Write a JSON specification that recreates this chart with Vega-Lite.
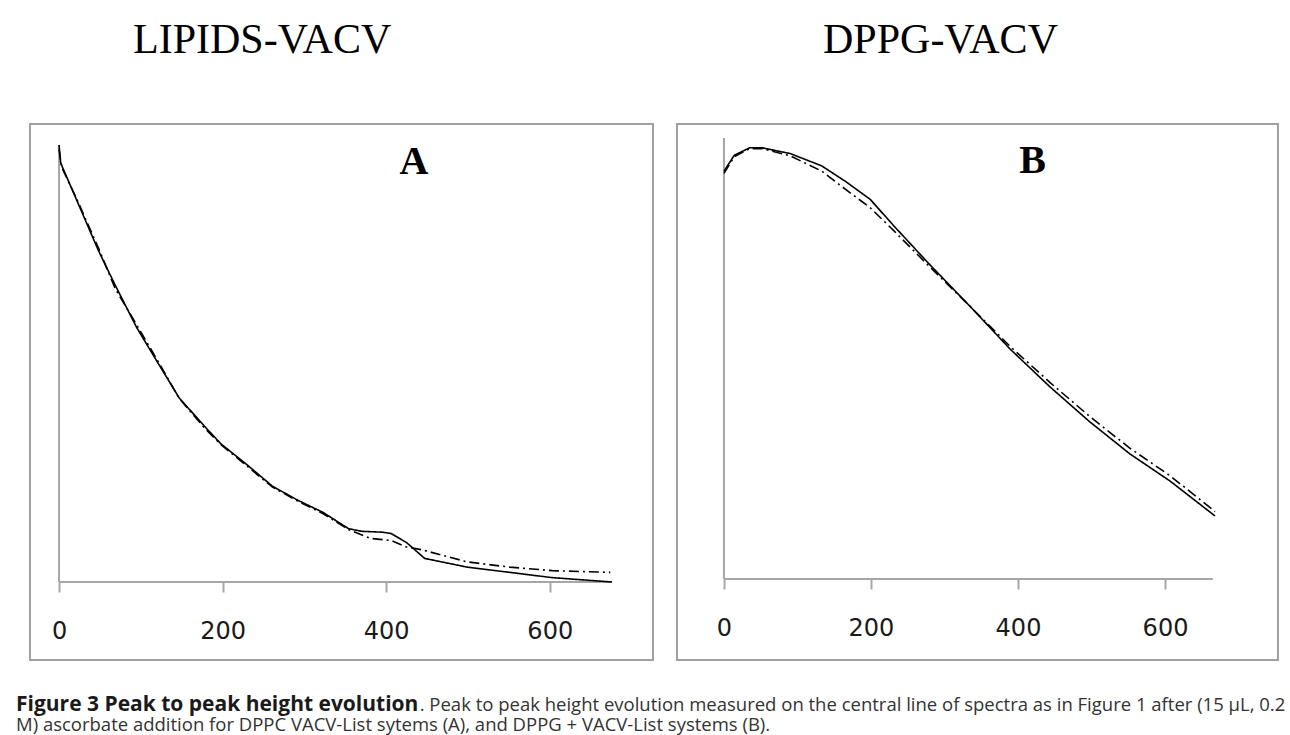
{
  "$schema": "https://vega.github.io/schema/vega-lite/v6.json",
  "background": "white",
  "padding": {"left": 16, "top": 18, "right": 10, "bottom": 3},
  "spacing": 22,
  "title": {
    "text": "Figure 3 Peak to peak height evolution",
    "subtitle": [
      "\u200b\u00a0\u00a0\u00a0\u00a0\u00a0\u00a0\u00a0\u00a0\u00a0\u00a0\u00a0\u00a0\u00a0\u00a0\u00a0\u00a0\u00a0\u00a0\u00a0\u00a0\u00a0\u00a0\u00a0\u00a0\u00a0\u00a0\u00a0\u00a0\u00a0\u00a0\u00a0\u00a0\u00a0\u00a0\u00a0\u00a0\u00a0\u00a0\u00a0\u00a0\u00a0\u00a0\u00a0\u00a0\u00a0\u00a0\u00a0\u00a0\u00a0\u00a0\u00a0\u00a0\u00a0\u00a0\u00a0\u00a0\u00a0\u00a0\u00a0\u00a0\u00a0\u00a0\u00a0\u00a0\u00a0\u00a0\u00a0\u00a0\u00a0\u00a0\u00a0\u00a0\u00a0\u00a0\u00a0\u00a0\u00a0\u00a0\u00a0\u00a0\u00a0\u00a0\u00a0\u00a0. Peak to peak height evolution measured on the central line of spectra as in Figure 1 after (15 µL, 0.2",
      "M) ascorbate addition for DPPC VACV-List sytems (A), and DPPG + VACV-List systems (B)."
    ],
    "orient": "bottom",
    "anchor": "start",
    "dx": -13,
    "offset": 33,
    "font": "Open Sans",
    "fontSize": 21,
    "fontWeight": "bold",
    "color": "#1a1a1a",
    "subtitleFont": "Open Sans",
    "subtitleFontSize": 18.5,
    "subtitleFontWeight": "normal",
    "subtitleColor": "#333333",
    "subtitlePadding": -19,
    "subtitleLineHeight": 20
  },
  "datasets": {
    "a": [
      {"x": 0, "y": 100, "s": "solid"}, {"x": 2, "y": 96, "s": "solid"}, {"x": 4, "y": 95, "s": "solid"},
      {"x": 22, "y": 87.2, "s": "solid"}, {"x": 48, "y": 75.9, "s": "solid"}, {"x": 69, "y": 67.8, "s": "solid"},
      {"x": 95, "y": 58.2, "s": "solid"}, {"x": 121, "y": 50.1, "s": "solid"}, {"x": 147, "y": 42.1, "s": "solid"},
      {"x": 178, "y": 35.6, "s": "solid"}, {"x": 198, "y": 31.6, "s": "solid"}, {"x": 230, "y": 26.8, "s": "solid"},
      {"x": 261, "y": 21.9, "s": "solid"}, {"x": 292, "y": 18.7, "s": "solid"}, {"x": 323, "y": 15.9, "s": "solid"},
      {"x": 354, "y": 12.2, "s": "solid"}, {"x": 370, "y": 11.6, "s": "solid"}, {"x": 395, "y": 11.4, "s": "solid"},
      {"x": 406, "y": 11.1, "s": "solid"}, {"x": 425, "y": 9.0, "s": "solid"}, {"x": 447, "y": 5.4, "s": "solid"},
      {"x": 499, "y": 3.4, "s": "solid"}, {"x": 551, "y": 2.2, "s": "solid"}, {"x": 603, "y": 1.0, "s": "solid"},
      {"x": 676, "y": 0, "s": "solid"},
      {"x": 0, "y": 99, "s": "dashdot"}, {"x": 3, "y": 95, "s": "dashdot"}, {"x": 22, "y": 87.5, "s": "dashdot"},
      {"x": 48, "y": 76.5, "s": "dashdot"}, {"x": 69, "y": 67, "s": "dashdot"}, {"x": 95, "y": 58.8, "s": "dashdot"},
      {"x": 121, "y": 50.5, "s": "dashdot"}, {"x": 147, "y": 42, "s": "dashdot"}, {"x": 178, "y": 35.2, "s": "dashdot"},
      {"x": 198, "y": 31.4, "s": "dashdot"}, {"x": 230, "y": 26.5, "s": "dashdot"}, {"x": 261, "y": 21.7, "s": "dashdot"},
      {"x": 292, "y": 18.5, "s": "dashdot"}, {"x": 323, "y": 15.6, "s": "dashdot"}, {"x": 354, "y": 12, "s": "dashdot"},
      {"x": 380, "y": 10, "s": "dashdot"}, {"x": 406, "y": 9.5, "s": "dashdot"}, {"x": 425, "y": 8, "s": "dashdot"},
      {"x": 443, "y": 7.4, "s": "dashdot"}, {"x": 499, "y": 4.6, "s": "dashdot"}, {"x": 551, "y": 3.4, "s": "dashdot"},
      {"x": 603, "y": 2.6, "s": "dashdot"}, {"x": 674, "y": 2.2, "s": "dashdot"}
    ],
    "b": [
      {"x": 0, "y": 92.5, "s": "solid"}, {"x": 14, "y": 96.1, "s": "solid"}, {"x": 35, "y": 97.8, "s": "solid"},
      {"x": 52, "y": 97.8, "s": "solid"}, {"x": 90, "y": 96.5, "s": "solid"}, {"x": 133, "y": 93.7, "s": "solid"},
      {"x": 166, "y": 90.1, "s": "solid"}, {"x": 199, "y": 86.1, "s": "solid"}, {"x": 231, "y": 80.1, "s": "solid"},
      {"x": 280, "y": 71.3, "s": "solid"}, {"x": 335, "y": 61.8, "s": "solid"}, {"x": 389, "y": 52.2, "s": "solid"},
      {"x": 444, "y": 43.5, "s": "solid"}, {"x": 498, "y": 35.6, "s": "solid"}, {"x": 552, "y": 28.4, "s": "solid"},
      {"x": 607, "y": 22.2, "s": "solid"}, {"x": 668, "y": 14.3, "s": "solid"},
      {"x": 0, "y": 92, "s": "dashdot"}, {"x": 14, "y": 95.8, "s": "dashdot"}, {"x": 35, "y": 97.6, "s": "dashdot"},
      {"x": 52, "y": 97.6, "s": "dashdot"}, {"x": 90, "y": 96, "s": "dashdot"}, {"x": 133, "y": 92.5, "s": "dashdot"},
      {"x": 166, "y": 88.3, "s": "dashdot"}, {"x": 199, "y": 84.2, "s": "dashdot"}, {"x": 231, "y": 79, "s": "dashdot"},
      {"x": 280, "y": 70.8, "s": "dashdot"}, {"x": 335, "y": 61.8, "s": "dashdot"}, {"x": 389, "y": 52.8, "s": "dashdot"},
      {"x": 444, "y": 44.5, "s": "dashdot"}, {"x": 498, "y": 36.8, "s": "dashdot"}, {"x": 552, "y": 29.7, "s": "dashdot"},
      {"x": 607, "y": 23.4, "s": "dashdot"}, {"x": 668, "y": 15.3, "s": "dashdot"}
    ]
  },
  "hconcat": [
    {
      "width": 623,
      "height": 536,
      "title": {"text": "LIPIDS-VACV", "anchor": "start", "dx": 103, "offset": 62, "font": "Liberation Serif", "fontSize": 42, "fontWeight": "normal", "color": "#000000"},
      "layer": [
        {
          "data": {"values": [{}]},
          "mark": {"type": "rule", "color": "#a6a6a6", "strokeWidth": 2},
          "encoding": {
            "x": {"datum": 0, "type": "quantitative", "scale": {"domain": [-35.5, 726.2], "nice": false, "zero": false}, "axis": {"values": [0, 200, 400, 600], "offset": -78, "title": null}},
            "x2": {"datum": 676},
            "y": {"datum": 0, "type": "quantitative", "scale": {"domain": [-17.85, 104.8], "nice": false, "zero": false}, "axis": null}
          }
        },
        {
          "data": {"values": [{}]},
          "mark": {"type": "rule", "color": "#a6a6a6", "strokeWidth": 2},
          "encoding": {
            "x": {"datum": 0, "type": "quantitative"},
            "y": {"datum": 0, "type": "quantitative"},
            "y2": {"datum": 100}
          }
        },
        {
          "data": {"name": "a"},
          "mark": {"type": "line", "color": "#000000", "strokeWidth": 1.6},
          "encoding": {
            "x": {"field": "x", "type": "quantitative"},
            "y": {"field": "y", "type": "quantitative"},
            "strokeDash": {"field": "s", "type": "nominal", "scale": {"domain": ["solid", "dashdot"], "range": [[1, 0], [10, 4, 2, 4]]}, "legend": null}
          }
        },
        {
          "data": {"values": [{}]},
          "mark": {"type": "text", "text": "A", "font": "Liberation Serif", "fontSize": 40, "fontWeight": "bold", "color": "#000000"},
          "encoding": {
            "x": {"datum": 434, "type": "quantitative"},
            "y": {"datum": 96, "type": "quantitative"}
          }
        }
      ]
    },
    {
      "width": 601,
      "height": 536,
      "title": {"text": "DPPG-VACV", "anchor": "start", "dx": 146, "offset": 62, "font": "Liberation Serif", "fontSize": 42, "fontWeight": "normal", "color": "#000000"},
      "layer": [
        {
          "data": {"values": [{}]},
          "mark": {"type": "rule", "color": "#a6a6a6", "strokeWidth": 2},
          "encoding": {
            "x": {"datum": 0, "type": "quantitative", "scale": {"domain": [-63.9, 753.7], "nice": false, "zero": false}, "axis": {"values": [0, 200, 400, 600], "offset": -81, "title": null}},
            "x2": {"datum": 665},
            "y": {"datum": 0, "type": "quantitative", "scale": {"domain": [-18.37, 103.2], "nice": false, "zero": false}, "axis": null}
          }
        },
        {
          "data": {"values": [{}]},
          "mark": {"type": "rule", "color": "#a6a6a6", "strokeWidth": 2},
          "encoding": {
            "x": {"datum": 0, "type": "quantitative"},
            "y": {"datum": 0, "type": "quantitative"},
            "y2": {"datum": 100}
          }
        },
        {
          "data": {"name": "b"},
          "mark": {"type": "line", "color": "#000000", "strokeWidth": 1.6},
          "encoding": {
            "x": {"field": "x", "type": "quantitative"},
            "y": {"field": "y", "type": "quantitative"},
            "strokeDash": {"field": "s", "type": "nominal", "scale": {"domain": ["solid", "dashdot"], "range": [[1, 0], [10, 4, 2, 4]]}, "legend": null}
          }
        },
        {
          "data": {"values": [{}]},
          "mark": {"type": "text", "text": "B", "font": "Liberation Serif", "fontSize": 40, "fontWeight": "bold", "color": "#000000"},
          "encoding": {
            "x": {"datum": 420, "type": "quantitative"},
            "y": {"datum": 94.8, "type": "quantitative"}
          }
        }
      ]
    }
  ],
  "config": {
    "view": {"stroke": "#a0a0a0", "strokeWidth": 2},
    "axisX": {
      "domain": false,
      "grid": false,
      "ticks": true,
      "tickColor": "#a6a6a6",
      "tickWidth": 2,
      "tickSize": 10,
      "labelFont": "DejaVu Sans",
      "labelFontSize": 24,
      "labelColor": "#1a1a1a",
      "labelPadding": 27
    }
  }
}
